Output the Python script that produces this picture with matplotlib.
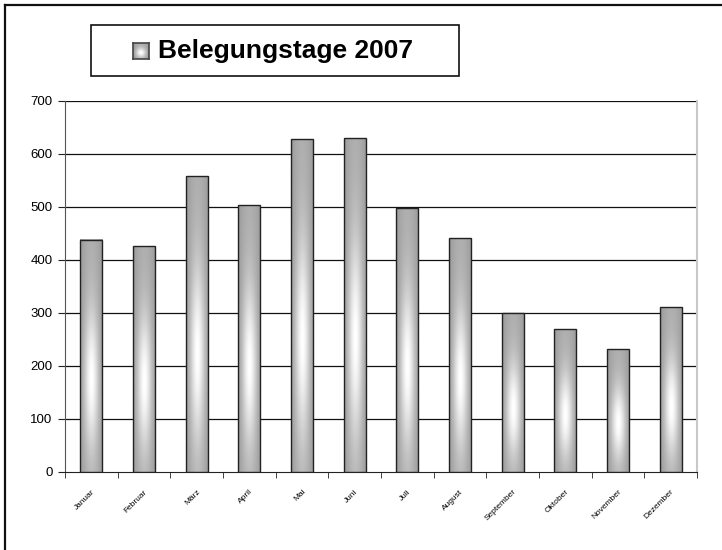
import numpy as np
import matplotlib as mpl

mpl.use("Agg")
from matplotlib import pyplot as plt
from matplotlib.patches import Rectangle
from matplotlib.lines import Line2D

plt.rcParams['font.family'] = ['Liberation Sans', 'DejaVu Sans']

# Daten
monate = ['Januar', 'Februar', 'März', 'April', 'Mai', 'Juni', 'Juli',
          'August', 'September', 'Oktober', 'November', 'Dezember']
belegungstage = [438, 426, 557, 503, 627, 630, 497, 440, 299, 269, 231, 310]
y_ticks = [0, 100, 200, 300, 400, 500, 600, 700]
titel = 'Belegungstage 2007'

W, H = 722, 550


def verlauf(nx=40, ny=120):
    # Excel-artiger Farbverlauf: dunkle Ränder, helle Mitte
    s = np.linspace(-1, 1, nx)
    t = np.linspace(0, 1, ny)[:, None]
    base = 0.6 + 0.08 * (1 - s ** 2)
    v = np.exp(-((t - 0.6) / 0.3) ** 2)
    h = np.exp(-(s / 0.6) ** 2)
    return base + (1 - base) * v * h


fig = plt.figure(figsize=(W / 100, H / 100), dpi=100)
ax = fig.add_axes([65 / W, 1 - 471.7 / H, (697 - 65) / W, (471.7 - 100.7) / H])

x = np.arange(len(monate))
bars = ax.bar(x, belegungstage, width=0.42, facecolor='none',
              edgecolor='#222222', linewidth=1.0, zorder=4)
grad = verlauf()
for b in bars:
    bx, by = b.get_x(), b.get_y()
    ax.imshow(grad, cmap='gray', vmin=0, vmax=1, aspect='auto',
              extent=[bx, bx + b.get_width(), by, by + b.get_height()],
              zorder=3, interpolation='bilinear')

ax.set_xlim(-0.5, len(monate) - 0.5)
ax.set_ylim(0, 700)
ax.set_yticks(y_ticks)
ax.set_yticklabels([str(v) for v in y_ticks], fontsize=9.5)
for v in y_ticks[1:]:
    ax.axhline(v, color='#111111', linewidth=0.9, zorder=1)

ax.set_xticks(x)
ax.set_xticklabels(monate, rotation=45, ha='right', rotation_mode='anchor',
                   fontsize=6)
ax.set_xticks(np.arange(len(monate) + 1) - 0.5, minor=True)
ax.tick_params(axis='x', which='major', length=0, pad=12)
ax.tick_params(axis='x', which='minor', length=4, direction='out', color='#222222')
ax.tick_params(axis='y', length=5, direction='out', color='#222222', pad=4)

ax.spines['top'].set_visible(False)
ax.spines['right'].set_color('#c8c8c8')
ax.spines['right'].set_linewidth(1.5)
ax.spines['left'].set_color('#555555')
ax.spines['bottom'].set_color('#222222')

# Rahmen um das Diagramm
fig.add_artist(Line2D([5 / W, 1.01], [1 - 5 / H, 1 - 5 / H], color='#111111', lw=1.6))
fig.add_artist(Line2D([5 / W, 5 / W], [1 - 5 / H, -0.01], color='#111111', lw=1.6))

# Legende
fig.add_artist(Rectangle((90.7 / W, 1 - 75.7 / H), (458.7 - 90.7) / W, (75.7 - 25) / H,
                         transform=fig.transFigure, facecolor='white',
                         edgecolor='#111111', linewidth=1.2, zorder=-1))
lax = fig.add_axes([133.3 / W, 1 - 59 / H, 16 / W, 16 / H])
lax.set_zorder(5)
lax.imshow(verlauf(20, 20), cmap='gray', vmin=0, vmax=1, aspect='auto')
lax.set_xticks([])
lax.set_yticks([])
for sp in lax.spines.values():
    sp.set_color('#444444')
    sp.set_linewidth(1.2)
fig.text(158.5 / W, 1 - 51 / H, titel, fontsize=19, fontweight='bold',
         va='center', ha='left', zorder=6)

fig.savefig('out.png', dpi=100)
